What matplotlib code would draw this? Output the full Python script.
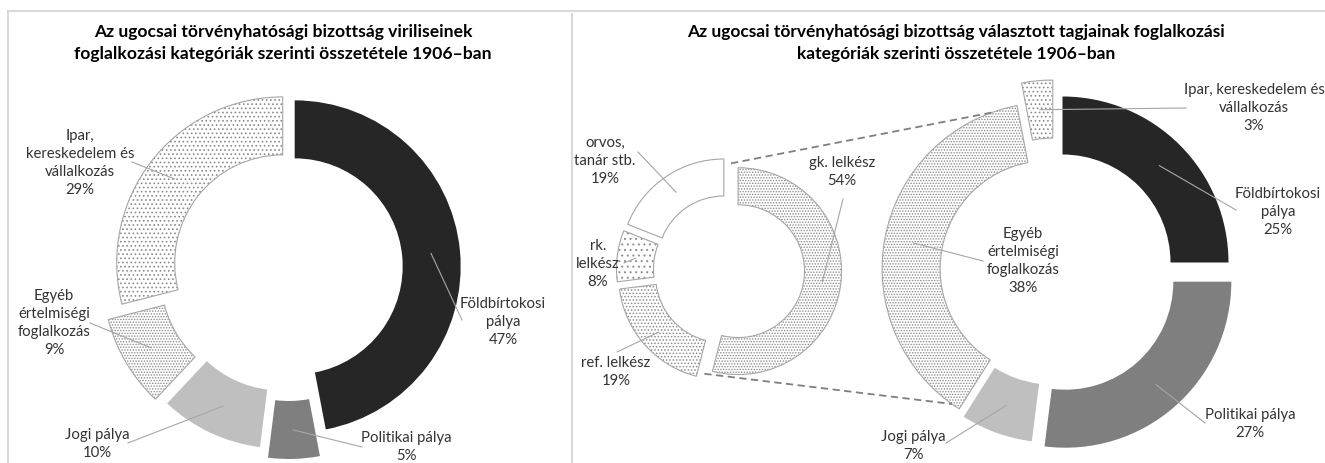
import numpy as np
import matplotlib
matplotlib.use('Agg')
import matplotlib.pyplot as plt

W, H = 1325, 463

# left chart: virilists by occupation (clockwise from top)
left_labels = ['Földbírtokosi\npálya', 'Politikai pálya', 'Jogi pálya',
               'Egyéb\nértelmiségi\nfoglalkozás', 'Ipar,\nkereskedelem és\nvállalkozás']
left_values = [47, 5, 10, 9, 29]

# right chart: elected members by occupation
right_labels = ['Földbírtokosi\npálya', 'Politikai pálya', 'Jogi pálya',
                'Egyéb\nértelmiségi\nfoglalkozás', 'Ipar, kereskedelem és\nvállalkozás']
right_values = [25, 27, 7, 38, 3]

# breakdown of "Egyéb értelmiségi foglalkozás"
sub_labels = ['gk. lelkész', 'ref. lelkész', 'rk.\nlelkész', 'orvos,\ntanár stb.']
sub_values = [54, 19, 8, 19]

left_title = 'Az ugocsai törvényhatósági bizottság viriliseinek\nfoglalkozási kategóriák szerinti összetétele 1906–ban'
right_title = 'Az ugocsai törvényhatósági bizottság választott tagjainak foglalkozási\nkategóriák szerinti összetétele 1906–ban'

plt.rcParams['font.family'] = ['Lato', 'DejaVu Sans']
plt.rcParams['hatch.linewidth'] = 0.7

EDGE = '#a6a6a6'
DOTS = '#8c8c8c'
LEAD = '#a6a6a6'

main_colors = ['#262626', '#7f7f7f', '#bfbfbf', 'white', 'white']
main_hatch = ['', '', '', '......', '....']
sub_colors = ['white', 'white', 'white', 'white']
sub_hatch = ['......', '.....', '...', '']


def Y(y):
    return H - y


def donut(ax, values, center, radius, width, explode, colors, hatches):
    c = (center[0], Y(center[1]))
    wedges, _ = ax.pie(values, radius=radius, center=c,
                       startangle=90, counterclock=False, explode=explode,
                       colors=colors, hatch=hatches,
                       wedgeprops=dict(width=width, linewidth=0))
    for w, col, h in zip(wedges, colors, hatches):
        w.set_edgecolor(DOTS if h else col)
    # thin outlines on the light slices
    rims, _ = ax.pie(values, radius=radius, center=c,
                     startangle=90, counterclock=False, explode=explode,
                     wedgeprops=dict(width=width, linewidth=0.8, fill=False))
    for r, col, h in zip(rims, colors, hatches):
        r.set_edgecolor(EDGE if (h or col == 'white') else 'none')
    return wedges


def mid_point(w, frac=0.5, ang=None):
    if ang is None:
        ang = (w.theta1 + w.theta2) / 2
    rho = w.r - w.width * frac
    a = np.radians(ang)
    return w.center[0] + rho * np.cos(a), w.center[1] + rho * np.sin(a)


def outer_point(w, ang):
    a = np.radians(ang)
    return w.center[0] + w.r * np.cos(a), w.center[1] + w.r * np.sin(a)


def labels(ax, wedges, names, values, text_pos, lead_pos, fs=10.7):
    for w, name, v, tp, lp in zip(wedges, names, values, text_pos, lead_pos):
        ax.text(tp[0], Y(tp[1]), f'{name}\n{v}%', ha='center', va='center',
                fontsize=fs, color='#333333', linespacing=1.35)
        tx, ty = mid_point(w)
        ax.plot([lp[0], tx], [Y(lp[1]), ty], color=LEAD, lw=0.8)


fig = plt.figure(figsize=(W / 100, H / 100), dpi=100)
ax = fig.add_axes([0, 0, 1, 1])

# frame lines
ax.plot([8, W], [Y(11), Y(11)], color='#d9d9d9', lw=1.5)
ax.plot([8, 8], [Y(11), 0], color='#d9d9d9', lw=1.5)
ax.plot([572, 572], [Y(14), 0], color='#d9d9d9', lw=1.5)

# titles
ax.text(283, Y(43), left_title, ha='center', va='center', fontsize=12.6,
        fontweight='bold', color='black', linespacing=1.4)
ax.text(956, Y(43), right_title, ha='center', va='center', fontsize=12.5,
        fontweight='bold', color='black', linespacing=1.4)

# left donut
lw_ = donut(ax, left_values, (288, 267), 166, 58, [6.7, 26, 17, 22, 6.7],
            main_colors, main_hatch)
labels(ax, lw_, left_labels, left_values,
       [(503, 322), (406, 447), (97, 444), (54, 323), (80, 163)],
       [(462, 320), (362, 447), (128, 443), (90, 323), (132, 162)])

# right big donut
rw = donut(ax, right_values, (1055, 270), 166, 58, [10.6, 15.6, 7, 7, 24],
           main_colors, main_hatch)
labels(ax, rw, right_labels, right_values,
       [(1278, 212), (1250, 424), (913, 446), (1023, 261), (1254, 108)],
       [(1236, 210), (1205, 423), (946, 443), (983, 261), (1186, 108)])

# small donut (breakdown)
sw = donut(ax, sub_values, (729, 270), 103.4, 37, [9.2, 9.2, 9.2, 9.2],
           sub_colors, sub_hatch)
labels(ax, sw, sub_labels, sub_values,
       [(842, 172), (616, 372), (598, 264), (605, 161)],
       [(843, 199), (617, 352), (624, 263), (638, 152)])

# dashed connectors from breakdown to "Egyéb" slice
egy = rw[3]
top_a = np.array(outer_point(sw[0], sw[0].theta2))
top_b = np.array(outer_point(sw[3], sw[3].theta1))
bot_a = np.array(outer_point(sw[0], sw[0].theta1))
bot_b = np.array(outer_point(sw[1], sw[1].theta2))
p1 = (top_a + top_b) / 2
p2 = (bot_a + bot_b) / 2
q1 = outer_point(egy, egy.theta1 + 9)
q2 = outer_point(egy, egy.theta2 - 3)
ax.plot([p1[0], q1[0]], [p1[1], q1[1]], color='#7f7f7f', lw=1.3, ls=(0, (4, 2.5)))
ax.plot([p2[0], q2[0]], [p2[1], q2[1]], color='#7f7f7f', lw=1.3, ls=(0, (4, 2.5)))

ax.set_xlim(0, W)
ax.set_ylim(0, H)
ax.set_aspect('auto')
ax.axis('off')

fig.savefig('out.png', dpi=100, facecolor='white')
